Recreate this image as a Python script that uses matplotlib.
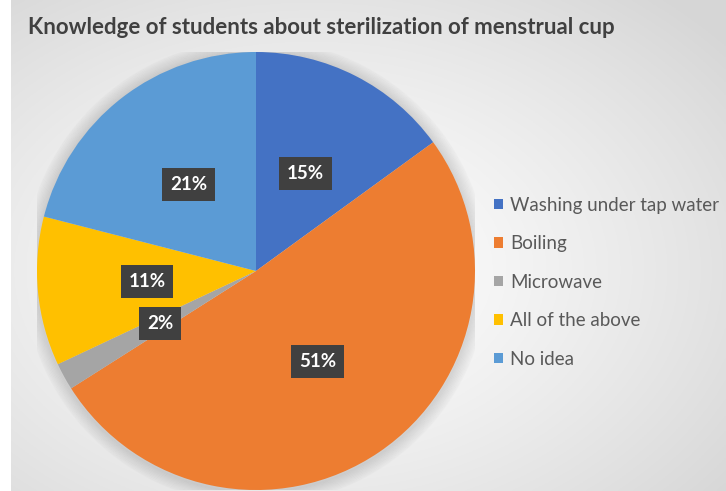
import numpy as np
import matplotlib
matplotlib.use("Agg")
import matplotlib.pyplot as plt

plt.rcParams['font.family'] = ['Lato', 'DejaVu Sans']

categories = ['Washing under tap water', 'Boiling', 'Microwave', 'All of the above', 'No idea']
shares = [15, 51, 2, 11, 21]
colors = ['#4472C4', '#ED7D31', '#A5A5A5', '#FFC000', '#5B9BD5']
title = 'Knowledge of students about sterilization of menstrual cup'

W, H = 726, 491
fig = plt.figure(figsize=(W / 100, H / 100), dpi=100)
fig.patch.set_facecolor('white')

# radial gradient background of the chart area
bg = fig.add_axes([11 / W, 0, (W - 11) / W, 1])
yy, xx = np.mgrid[0:1:300j, 0:1:400j]
d = np.sqrt(((xx - 0.42) / 0.75) ** 2 + ((yy - 0.45) / 0.75) ** 2)
v = 1.0 - 0.16 * np.clip(d, 0, 1) ** 1.3
bg.imshow(np.dstack([v, v, v]), extent=[0, 1, 0, 1], aspect='auto', origin='lower')
bg.axis('off')

# pie
cx, cy, R = 256, 271, 219
ax = fig.add_axes([(cx - R) / W, (H - cy - R) / H, 2 * R / W, 2 * R / H])
ax.set_facecolor('none')
# soft shadow
for i in range(10):
    c = plt.Circle((0.0, -0.005), 1.0 + 0.006 * (i + 1), color='k', alpha=0.012, zorder=0)
    ax.add_patch(c)
wedges, _, autotexts = ax.pie(shares, colors=colors, startangle=90, counterclock=False,
                              autopct='%d%%', pctdistance=0.5,
                              wedgeprops=dict(linewidth=0, zorder=2),
                              textprops=dict(color='white', fontsize=13.5, fontweight='bold'))
for t in autotexts:
    t.set_zorder(5)
    t.set_bbox(dict(boxstyle='square,pad=0.42', facecolor='#404040', edgecolor='#404040',
                    linewidth=0))
ax.set_xlim(-1, 1)
ax.set_ylim(-1, 1)
ax.set_aspect('equal')
ax.axis('off')

fig.text(28 / W, 1 - 27 / H, title, fontsize=16, fontweight='bold', color='#404040',
         ha='left', va='center')

handles = [plt.Rectangle((0, 0), 1, 1, facecolor=c, edgecolor='none') for c in colors]
leg = fig.legend(handles, categories, loc='upper left', bbox_to_anchor=(486 / W, 1 - 189 / H),
                 frameon=False, fontsize=13.5, labelcolor='#595959', handlelength=0.5,
                 handleheight=0.5, handletextpad=0.4, labelspacing=1.15, borderaxespad=0)

fig.savefig('out.png', dpi=100)
